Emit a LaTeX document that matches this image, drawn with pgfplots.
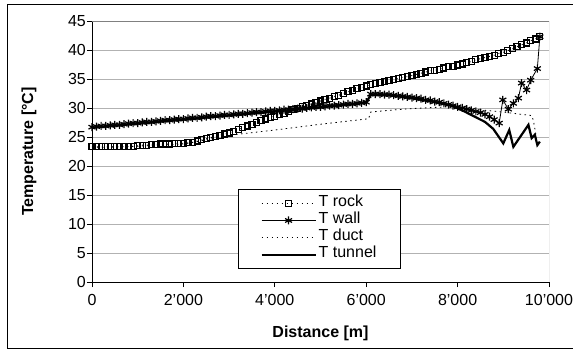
\documentclass[border=0pt]{standalone}
\usepackage{pgfplots}
\pgfplotsset{compat=1.18}
\usepackage{fontspec}
\setmainfont{Liberation Sans}
\begin{document}
\begin{tikzpicture}
\path[use as bounding box] (-92bp,-67bp) rectangle (481bp,282bp);
\begin{axis}[
  scale only axis, width=457bp, height=261bp,
  at={(0,0)}, anchor=south west,
  xmin=0, xmax=10000, ymin=0, ymax=45,
  scaled x ticks=false,
  axis lines*=left,
  axis line style={black, line width=0.9bp},
  xtick={0,2000,4000,6000,8000,10000},
  xticklabels={0,2'000,4'000,6'000,8'000,10'000},
  ytick={0,5,...,45},
  yticklabels={0,5,10,15,20,25,30,35,40,45},
  tick align=outside, major tick length=5bp,
  tick style={black, line width=0.9bp},
  ymajorgrids, major grid style={gray!60, line width=0.9bp},
  tick label style={font=\fontsize{16bp}{19bp}\selectfont},
  xticklabel style={yshift=-4bp},
  yticklabel style={inner xsep=1bp},
  xlabel={\textbf{Distance [m]}},
  ylabel={\textbf{Temperature [°C]}},
  label style={font=\fontsize{16bp}{19bp}\selectfont},
  xlabel style={at={(axis description cs:0.5,0)}, anchor=center, yshift=-51bp},
  ylabel style={at={(axis description cs:-0.138,0.5)}, anchor=center},
  legend cell align=left,
  legend style={at={(axis description cs:0.3195,0.356)}, anchor=north west,
    draw=black, line width=0.9bp, fill=white,
    inner xsep=22bp, inner ysep=5bp, row sep=0pt,
    font=\fontsize{16bp}{19bp}\selectfont,
    nodes={inner xsep=2bp, inner ysep=0pt, text height=11.5bp, text depth=5.8bp}},
  legend image code/.code={\draw[mark repeat=2,mark phase=2,#1] plot coordinates {(0bp,0bp)(27bp,0bp)(54bp,0bp)};},
]
% T rock
\addplot[black, line width=0.8bp, dash pattern=on 1bp off 4bp, mark=square, mark size=3bp, mark options={solid, line width=1.2bp}] coordinates {
(0,23.4)(100,23.3)(200,23.3)(300,23.3)(400,23.3)(500,23.3)(600,23.3)(700,23.3)(800,23.4)(900,23.4)
(1000,23.5)(1100,23.6)(1200,23.6)(1300,23.7)(1400,23.7)(1500,23.8)(1600,23.8)(1700,23.8)(1800,23.9)(1900,23.9)
(2000,23.9)(2100,24.0)(2200,24.1)(2300,24.3)(2400,24.5)(2500,24.7)(2600,24.9)(2700,25.1)(2800,25.3)(2900,25.5)
(3000,25.7)(3100,26.0)(3200,26.3)(3300,26.6)(3400,26.9)(3500,27.2)(3600,27.5)(3700,27.8)(3800,28.1)(3900,28.4)
(4000,28.6)(4100,28.9)(4200,29.1)(4300,29.4)(4400,29.7)(4500,29.9)(4600,30.2)(4700,30.4)(4800,30.7)(4900,30.9)
(5000,31.2)(5100,31.5)(5200,31.7)(5300,32.0)(5400,32.2)(5500,32.5)(5600,32.8)(5700,33.0)(5800,33.3)(5900,33.5)
(6000,33.8)(6100,34.0)(6200,34.2)(6300,34.4)(6400,34.5)(6500,34.7)(6600,34.9)(6700,35.1)(6800,35.3)(6900,35.4)
(7000,35.6)(7100,35.8)(7200,36.0)(7300,36.2)(7400,36.4)(7500,36.5)(7600,36.7)(7700,36.9)(7800,37.1)(7900,37.2)
(8000,37.4)(8100,37.6)(8200,37.8)(8300,38.0)(8400,38.3)(8500,38.5)(8600,38.7)(8700,38.9)(8800,39.1)(8900,39.4)
(9000,39.6)(9100,39.9)(9200,40.2)(9300,40.6)(9400,40.9)(9500,41.2)(9600,41.6)(9700,41.9)(9800,42.3)
};
\addlegendentry{T rock}
% T wall
\addplot[black, line width=0.8bp, mark=asterisk, mark size=4bp, mark options={solid, line width=1.2bp}] coordinates {
(0,26.7)(100,26.8)(200,26.9)(300,26.9)(400,27.0)(500,27.1)(600,27.1)(700,27.2)(800,27.3)(900,27.4)
(1000,27.4)(1100,27.5)(1200,27.6)(1300,27.6)(1400,27.7)(1500,27.8)(1600,27.9)(1700,27.9)(1800,28.0)(1900,28.1)
(2000,28.1)(2100,28.2)(2200,28.3)(2300,28.3)(2400,28.4)(2500,28.5)(2600,28.6)(2700,28.6)(2800,28.7)(2900,28.8)
(3000,28.8)(3100,28.9)(3200,29.0)(3300,29.0)(3400,29.1)(3500,29.2)(3600,29.3)(3700,29.3)(3800,29.4)(3900,29.5)
(4000,29.5)(4100,29.6)(4200,29.7)(4300,29.7)(4400,29.8)(4500,29.9)(4600,29.9)(4700,30.0)(4800,30.1)(4900,30.2)
(5000,30.2)(5100,30.3)(5200,30.4)(5300,30.4)(5400,30.5)(5500,30.6)(5600,30.7)(5700,30.7)(5800,30.8)(5900,30.9)
(6000,31.0)(6100,32.4)(6200,32.4)(6300,32.4)(6400,32.3)(6500,32.3)(6600,32.2)(6700,32.1)(6800,32.0)(6900,31.9)
(7000,31.8)(7100,31.7)(7200,31.6)(7300,31.4)(7400,31.3)(7500,31.1)(7600,31.0)(7700,30.8)(7800,30.6)(7900,30.4)
(8000,30.2)(8100,30.0)(8200,29.8)(8300,29.6)(8400,29.4)(8500,29.2)(8600,28.9)(8700,28.5)(8800,28.0)(8910,27.4)
(8990,31.4)(9110,29.8)(9220,30.8)(9330,31.7)(9400,34.3)(9510,33.1)(9600,34.8)(9745,36.8)(9800,42.3)
};
\addlegendentry{T wall}
% T duct
\addplot[black, line width=0.8bp, dash pattern=on 1.5bp off 3.5bp] coordinates {
(0,23.2)(1000,23.4)(2000,23.8)(2300,24.2)(3000,25.3)(4000,26.2)(5000,27.2)(6000,28.1)(6050,28.1)
(6100,29.3)(6500,29.6)(7000,29.9)(7500,30.1)(7800,30.2)(8200,30.0)(8600,29.6)(9000,29.3)(9300,29.0)
(9620,28.7)(9660,27.8)(9700,26.0)(9750,23.6)
};
\addlegendentry{T duct}
% T tunnel
\addplot[black, line width=2.2bp] coordinates {
(0,26.6)(1000,27.3)(2000,28.0)(3000,28.7)(4000,29.4)(5000,30.1)(6000,30.9)(6100,32.3)(6500,32.2)
(7000,31.7)(7500,31.0)(7900,30.3)(8100,29.6)(8350,28.6)(8600,27.6)(8780,26.4)(9000,23.9)(9130,26.2)
(9220,23.3)(9550,27.1)(9620,24.8)(9690,25.4)(9745,23.6)(9800,24.2)
};
\addlegendentry{T tunnel}
\draw[gray, line width=0.9bp] (rel axis cs:0,1) -- (rel axis cs:1,1) -- (rel axis cs:1,0);
\end{axis}
\draw[black, line width=1bp] (-84bp,-66bp) rectangle (495bp,277bp);
\end{tikzpicture}
\end{document}
